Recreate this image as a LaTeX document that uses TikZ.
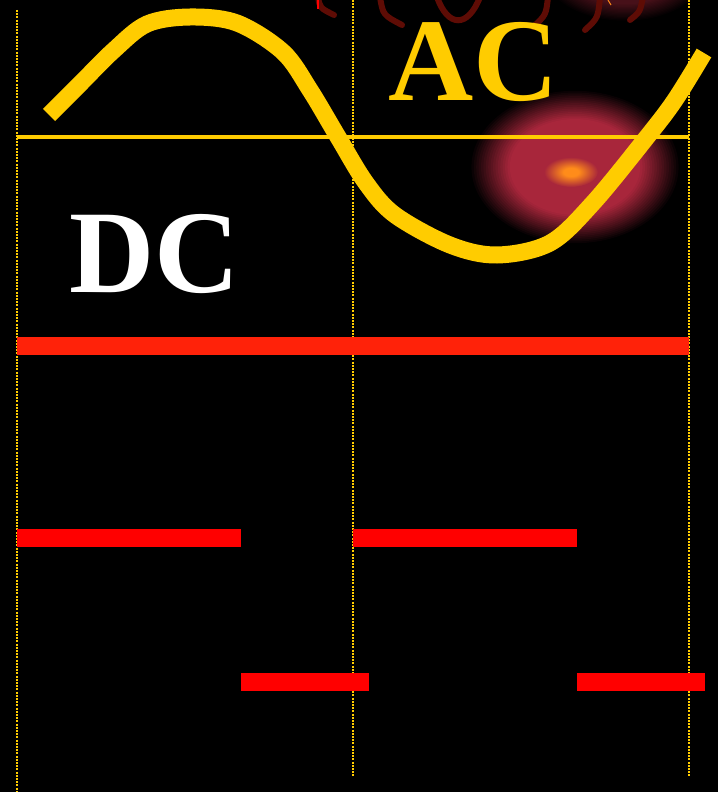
\documentclass[tikz,border=0pt]{standalone}
\usepackage{fontspec}
\setmainfont{Liberation Serif}
\usetikzlibrary{positioning}
\definecolor{acyellow}{HTML}{FFCC00}
\definecolor{dcred}{HTML}{FF2209}
\definecolor{pulsered}{HTML}{FF0000}
\definecolor{glowred}{HTML}{A8263B}
\definecolor{gloworange}{HTML}{FF8C1A}
\definecolor{coilred}{HTML}{5E0C05}
\pgfdeclareradialshading{spot}{\pgfpoint{0cm}{0cm}}{color(0bp)=(gloworange); color(7bp)=(gloworange); color(25bp)=(glowred); color(50bp)=(glowred)}

\begin{document}
\begin{tikzpicture}[
    x=1pt, y=-1pt,
    guide/.style={acyellow, line width=1.5pt, dash pattern=on 2pt off 1.2pt},
    bar/.style={fill=pulsered},
    coil/.style={coilred, line width=6pt, line cap=round},
    acwave/.style={acyellow, line width=17pt},
    bigtext/.style={inner sep=0pt, anchor=base west, font=\fontsize{118}{118}\selectfont\bfseries}
  ]
    \useasboundingbox (0,0) rectangle (718,792);
    \fill[black] (0,0) rectangle (718,792);

    % glow at the top, with the coil
    \foreach \k in {0,...,20} {
      \pgfmathsetmacro\m{min(42,\k*3)}
      \fill[glowred!\m!black] (625,-30) ellipse [x radius={84-\k*2}, y radius={52-\k*1.25}];
    }
    \draw[coil] (318,-3) .. controls (320,8) .. (334,15);
    \draw[coil] (380,-3) .. controls (383,15) .. (402,25);
    \draw[coil] (437,-3) .. controls (448,28) and (468,28) .. (480,-3);
    \draw[coil] (548,-3) .. controls (546,15) .. (533,27);
    \draw[coil] (600,-3) .. controls (598,18) .. (585,30);
    \draw[coil] (643,-3) .. controls (640,12) .. (630,20);
    \draw[red, line width=1.5pt] (318,0) -- (318,9);
    \draw[gloworange, line width=1pt] (608,0) -- (611,5);

    % glow behind the wave
    \foreach \k in {0,...,24} {
      \pgfmathsetmacro\m{min(100,\k*6)}
      \fill[glowred!\m!black] (575,167) ellipse [x radius={106-\k*2.4}, y radius={78-\k*1.77}];
    }
    \shade[shading=spot] (571,172) ellipse [x radius=27, y radius=15];

    % dotted guides
    \draw[guide] (17,10) -- (17,792);
    \draw[guide] (353,0) -- (353,777);
    \draw[guide] (689,0) -- (689,777);

    % AC
    \draw[acyellow, line width=4.5pt] (17,137) -- (689,137);
    \draw[acwave] plot[smooth, tension=0.55] coordinates {(49,115) (80,84) (113,51) (147,24) (190,17) (237,23) (283,52) (310,90) (338,137) (366,183) (395,215) (450,245) (497,255) (550,243) (593,203) (647,137) (675,100) (704,53)};
    \node[bigtext, text=acyellow] (ac) at (388,100) {AC};

    % DC
    \node[bigtext, text=white] (dc) at (69,292) {DC};
    \fill[dcred] (17,337) rectangle (689,355);

    % pulses
    \fill[bar] (17,529) rectangle (241,547);
    \fill[bar] (353,529) rectangle (577,547);
    \fill[bar] (241,673) rectangle (369,691);
    \fill[bar] (577,673) rectangle (705,691);
  \end{tikzpicture}
\end{document}
